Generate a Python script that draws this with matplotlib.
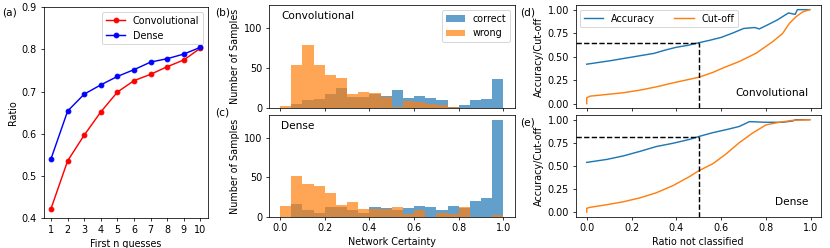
import numpy as np
import matplotlib
matplotlib.use("Agg")
import matplotlib.pyplot as plt

# (a) ratio of correct answers within the first n guesses
n_guesses = [1, 2, 3, 4, 5, 6, 7, 8, 9, 10]
ratio_conv = [0.423, 0.536, 0.597, 0.652, 0.699, 0.726, 0.741, 0.759, 0.775, 0.803]
ratio_dense = [0.541, 0.654, 0.694, 0.716, 0.736, 0.752, 0.770, 0.778, 0.789, 0.805]

# (b), (c) histograms of network certainty, bins of 0.05
bin_edges = [0.0, 0.05, 0.1, 0.15, 0.2, 0.25, 0.3, 0.35, 0.4, 0.45, 0.5,
             0.55, 0.6, 0.65, 0.7, 0.75, 0.8, 0.85, 0.9, 0.95, 1.0]
correct_conv = [0, 5, 10, 12, 18, 25, 14, 14, 18, 16, 23, 13, 15, 13, 10, 2, 4, 10, 12, 37]
wrong_conv = [3, 54, 79, 54, 42, 38, 18, 20, 19, 14, 2, 9, 8, 6, 4, 2, 0, 0, 0, 1]
correct_dense = [0, 16, 8, 5, 13, 12, 9, 5, 13, 11, 9, 11, 14, 13, 8, 14, 11, 20, 24, 123]
wrong_dense = [14, 52, 42, 39, 30, 15, 19, 10, 10, 10, 12, 4, 8, 0, 5, 3, 12, 0, 0, 2]

# (d) convolutional: accuracy and cut-off vs ratio not classified
acc_conv_x = [0.0, 0.1, 0.2, 0.3, 0.35, 0.4, 0.45, 0.5, 0.55, 0.6, 0.65, 0.7,
              0.75, 0.77, 0.8, 0.85, 0.9, 0.93, 0.94, 0.995]
acc_conv_y = [0.42, 0.455, 0.495, 0.535, 0.57, 0.60, 0.62, 0.648, 0.675, 0.705, 0.75, 0.80,
              0.81, 0.795, 0.83, 0.89, 0.965, 0.95, 1.0, 1.0]
cut_conv_x = [0.0, 0.0, 0.015, 0.089, 0.163, 0.237, 0.311, 0.385, 0.5, 0.563, 0.607,
              0.681, 0.756, 0.83, 0.874, 0.904, 0.933, 0.963, 0.995]
cut_conv_y = [0.0, 0.063, 0.08, 0.098, 0.116, 0.144, 0.179, 0.221, 0.281, 0.333, 0.379,
              0.449, 0.537, 0.66, 0.747, 0.853, 0.923, 0.975, 1.0]

# (e) dense
acc_dense_x = [0.0, 0.089, 0.163, 0.237, 0.311, 0.385, 0.459, 0.5, 0.563, 0.622, 0.681,
               0.726, 0.8, 0.874, 0.919, 0.933, 0.995]
acc_dense_y = [0.538, 0.57, 0.608, 0.657, 0.71, 0.745, 0.787, 0.818, 0.86, 0.892, 0.927,
               0.979, 0.972, 0.972, 0.986, 1.0, 1.0]
cut_dense_x = [0.0, 0.0, 0.015, 0.089, 0.163, 0.237, 0.311, 0.385, 0.459, 0.5, 0.563,
               0.622, 0.681, 0.741, 0.8, 0.859, 0.919, 0.995]
cut_dense_y = [0.0, 0.042, 0.052, 0.08, 0.112, 0.154, 0.21, 0.287, 0.385, 0.448, 0.524,
               0.63, 0.752, 0.857, 0.944, 0.972, 0.993, 1.0]

acc_at_half = [0.648, 0.818]

dpi = 69
fig = plt.figure(figsize=(830 / dpi, 248 / dpi), dpi=dpi)

# panel a
ax_a = fig.add_axes([0.0525, 0.120, 0.198, 0.851])
ax_a.plot(n_guesses, ratio_conv, 'r-o', ms=5, label='Convolutional')
ax_a.plot(n_guesses, ratio_dense, 'b-o', ms=5, label='Dense')
ax_a.set_ylim(0.4, 0.9)
ax_a.set_xticks(n_guesses)
ax_a.set_xlabel('First n guesses')
ax_a.set_ylabel('Ratio')
ax_a.legend(loc='upper right')

# panels b, c
centers = (np.array(bin_edges[:-1]) + np.array(bin_edges[1:])) / 2
ax_b = fig.add_axes([0.324, 0.563, 0.296, 0.417])
ax_c = fig.add_axes([0.324, 0.126, 0.296, 0.410])
for ax, corr, wrong, name in [(ax_b, correct_conv, wrong_conv, 'Convolutional'),
                              (ax_c, correct_dense, wrong_dense, 'Dense')]:
    ax.hist(centers, bins=bin_edges, weights=corr, alpha=0.7, color='C0', label='correct')
    ax.hist(centers, bins=bin_edges, weights=wrong, alpha=0.7, color='C1', label='wrong')
    ax.set_ylim(0, 129)
    ax.set_yticks([0, 50, 100])
    ax.set_ylabel('Number of Samples')
    ax.text(0.05, 0.94, name, transform=ax.transAxes, fontsize=11, va='top')
ax_b.set_xticklabels([])
ax_b.legend(loc='upper right')
ax_c.set_xlabel('Network Certainty')

# panels d, e
ax_d = fig.add_axes([0.6935, 0.563, 0.2955, 0.417])
ax_e = fig.add_axes([0.6935, 0.126, 0.2955, 0.410])
curves = [(ax_d, acc_conv_x, acc_conv_y, cut_conv_x, cut_conv_y, 'Convolutional', acc_at_half[0]),
          (ax_e, acc_dense_x, acc_dense_y, cut_dense_x, cut_dense_y, 'Dense', acc_at_half[1])]
for ax, ax_x, ay, cx, cy, name, a50 in curves:
    ax.plot(ax_x, ay, color='C0', label='Accuracy')
    ax.plot(cx, cy, color='C1', label='Cut-off')
    ax.plot([-0.05, 0.5], [a50, a50], 'k--')
    ax.plot([0.5, 0.5], [-0.05, a50], 'k--')
    ax.set_xlim(-0.0497, 1.0447)
    ax.set_ylim(-0.05, 1.05)
    ax.set_yticks([0, 0.25, 0.5, 0.75, 1.0])
    ax.set_ylabel('Accuracy/Cut-off')
    ax.text(0.95, 0.1, name, transform=ax.transAxes, fontsize=11, ha='right', va='bottom')
ax_d.set_xticklabels([])
ax_d.legend(loc='upper left', ncol=2)
ax_e.set_xlabel('Ratio not classified')

for lbl, x, y in [('(a)', 0.003, 0.948), ('(b)', 0.259, 0.948), ('(c)', 0.259, 0.546),
                  ('(d)', 0.627, 0.948), ('(e)', 0.627, 0.508)]:
    fig.text(x, y, lbl, fontsize=11, va='center')

fig.savefig('out.png', dpi=dpi)
